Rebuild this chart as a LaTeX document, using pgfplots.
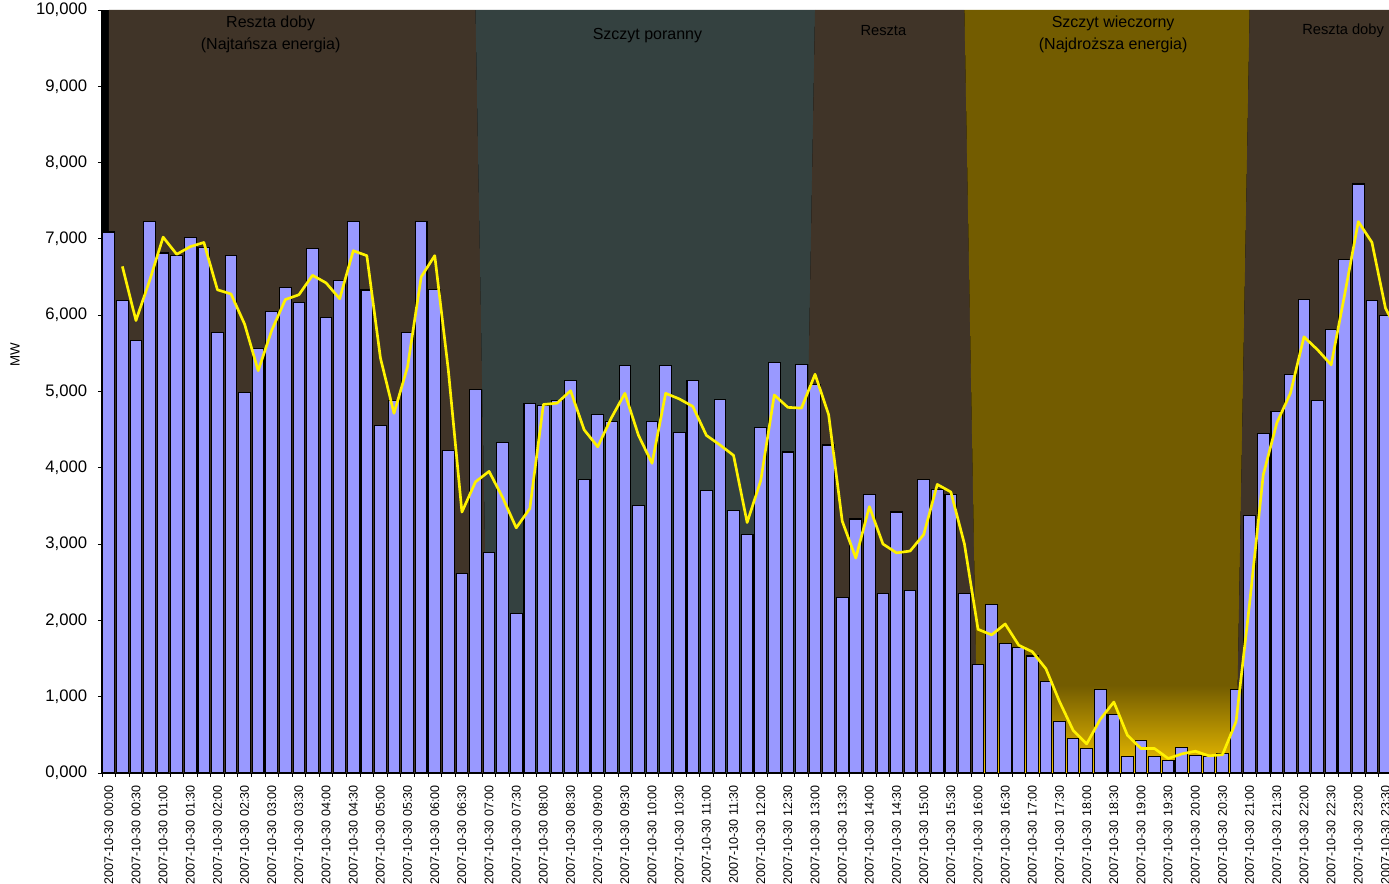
\documentclass[border=0pt]{standalone}
\usepackage{fontspec}
\setmainfont{Liberation Sans}
\usepackage{pgfplots}
\pgfplotsset{compat=1.18}
\definecolor{brownbg}{RGB}{64,52,40}
\definecolor{slatebg}{RGB}{52,65,64}
\definecolor{golddark}{RGB}{115,92,0}
\definecolor{goldbright}{RGB}{242,194,0}
\definecolor{barfill}{RGB}{153,153,255}
\begin{document}
\begin{tikzpicture}
\begin{axis}[
  scale only axis,
  width=965.25pt, height=572.25pt,
  xmin=-0.5, xmax=94.26,
  ymin=0, ymax=10000,
  axis x line*=bottom, axis y line*=left,
  axis line style={black, line width=0.8pt},
  axis background/.style={fill=black},
  tick align=outside,
  xtick={0,2,...,94},
  major x tick style={draw=none},
  minor xtick={-0.5,0.5,...,94.5},
  minor x tick style={black, line width=0.6pt},
  minor tick length=3pt,
  major tick length=3pt,
  xticklabels={{2007-10-30 00:00},{2007-10-30 00:30},{2007-10-30 01:00},{2007-10-30 01:30},{2007-10-30 02:00},{2007-10-30 02:30},{2007-10-30 03:00},{2007-10-30 03:30},{2007-10-30 04:00},{2007-10-30 04:30},{2007-10-30 05:00},{2007-10-30 05:30},{2007-10-30 06:00},{2007-10-30 06:30},{2007-10-30 07:00},{2007-10-30 07:30},{2007-10-30 08:00},{2007-10-30 08:30},{2007-10-30 09:00},{2007-10-30 09:30},{2007-10-30 10:00},{2007-10-30 10:30},{2007-10-30 11:00},{2007-10-30 11:30},{2007-10-30 12:00},{2007-10-30 12:30},{2007-10-30 13:00},{2007-10-30 13:30},{2007-10-30 14:00},{2007-10-30 14:30},{2007-10-30 15:00},{2007-10-30 15:30},{2007-10-30 16:00},{2007-10-30 16:30},{2007-10-30 17:00},{2007-10-30 17:30},{2007-10-30 18:00},{2007-10-30 18:30},{2007-10-30 19:00},{2007-10-30 19:30},{2007-10-30 20:00},{2007-10-30 20:30},{2007-10-30 21:00},{2007-10-30 21:30},{2007-10-30 22:00},{2007-10-30 22:30},{2007-10-30 23:00},{2007-10-30 23:30}},
  xticklabel style={rotate=90, anchor=east, inner sep=0pt, xshift=-6pt, font=\fontsize{9.4}{11}\selectfont},
  ytick={0,1000,...,10000},
  major y tick style={black, line width=0.6pt},
  scaled y ticks=false,
  yticklabels={{0,000},{1,000},{2,000},{3,000},{4,000},{5,000},{6,000},{7,000},{8,000},{9,000},{10,000}},
  yticklabel style={anchor=east, inner sep=0pt, xshift=-8pt, font=\fontsize{12.5}{15}\selectfont},
  ylabel={MW},
  every axis y label/.style={at={(rel axis cs:0,0.548)}, xshift=-65.25pt, rotate=90, anchor=center, font=\fontsize{10}{12}\selectfont},
]
% background regions
\addplot[draw=none, fill=brownbg] coordinates {(0,0) (0,10000) (27,10000) (28,0)} \closedcycle;
\addplot[draw=none, fill=slatebg] coordinates {(28,0) (27,10000) (52,10000) (51,0)} \closedcycle;
\addplot[draw=none, fill=brownbg] coordinates {(51,0) (52,10000) (63,10000) (64,0)} \closedcycle;
\addplot[draw=none, fill=golddark] coordinates {(64,0) (63,10000) (84,10000) (83,0)} \closedcycle;
\addplot[draw=none, top color=golddark, bottom color=goldbright] coordinates {(64,0) (63.885,1150) (83.115,1150) (83,0)} \closedcycle;
\addplot[draw=none, fill=brownbg] coordinates {(83,0) (84,10000) (96,10000) (96,0)} \closedcycle;
% bars
\addplot[ybar, bar width=0.86, fill=barfill, draw=black, line width=0.8pt] coordinates {
(0,7090)(1,6190)(2,5670)(3,7230)(4,6815)(5,6780)(6,7015)(7,6890)(8,5775)(9,6780)
(10,4985)(11,5560)(12,6045)(13,6365)(14,6170)(15,6875)(16,5970)(17,6460)(18,7230)(19,6330)
(20,4550)(21,4878)(22,5772)(23,7230)(24,6332)(25,4228)(26,2612)(27,5020)(28,2885)(29,4335)
(30,2090)(31,4842)(32,4818)(33,4876)(34,5143)(35,3852)(36,4697)(37,4609)(38,5342)(39,3508)
(40,4609)(41,5342)(42,4464)(43,5143)(44,3707)(45,4891)(46,3435)(47,3130)(48,4532)(49,5376)
(50,4207)(51,5357)(52,5095)(53,4299)(54,2305)(55,3329)(56,3653)(57,2348)(58,3421)(59,2397)
(60,3852)(61,3712)(62,3653)(63,2348)(64,1417)(65,2203)(66,1703)(67,1645)(68,1533)(69,1198)
(70,674)(71,446)(72,315)(73,1092)(74,767)(75,220)(76,420)(77,220)(78,160)(79,340)
(80,230)(81,220)(82,260)(83,1090)(84,3370)(85,4444)(86,4732)(87,5222)(88,6209)(89,4882)
(90,5817)(91,6732)(92,7719)(93,6190)(94,5994)};
% moving average line
\addplot[yellow, line width=2pt, line join=round, mark=none] coordinates {
(1,6640)(2,5930)(3,6450)(4,7023)(5,6798)(6,6898)(7,6953)(8,6333)(9,6278)(10,5883)
(11,5273)(12,5803)(13,6205)(14,6268)(15,6523)(16,6423)(17,6215)(18,6845)(19,6780)(20,5440)
(21,4714)(22,5325)(23,6501)(24,6781)(25,5280)(26,3420)(27,3816)(28,3953)(29,3610)(30,3213)
(31,3466)(32,4830)(33,4847)(34,5010)(35,4498)(36,4275)(37,4653)(38,4976)(39,4425)(40,4059)
(41,4976)(42,4903)(43,4804)(44,4425)(45,4299)(46,4163)(47,3283)(48,3831)(49,4954)(50,4792)
(51,4782)(52,5226)(53,4697)(54,3302)(55,2817)(56,3491)(57,3001)(58,2885)(59,2909)(60,3125)
(61,3782)(62,3683)(63,3001)(64,1883)(65,1810)(66,1953)(67,1674)(68,1589)(69,1366)(70,936)
(71,560)(72,381)(73,704)(74,930)(75,494)(76,320)(77,320)(78,190)(79,250)(80,285)
(81,225)(82,240)(83,675)(84,2230)(85,3907)(86,4588)(87,4977)(88,5716)(89,5546)(90,5350)
(91,6275)(92,7226)(93,6955)(94,6092)(95,5747)};
% region labels
\node[align=center, font=\fontsize{12}{16.5}\selectfont, text=black] at (axis cs:11.92,9675) {Reszta doby\\(Najtańsza energia)};
\node[font=\fontsize{12}{14}\selectfont, text=black] at (axis cs:39.66,9660) {Szczyt poranny};
\node[font=\fontsize{11}{13}\selectfont, text=black] at (axis cs:57.03,9725) {Reszta};
\node[align=center, font=\fontsize{12}{16.5}\selectfont, text=black] at (axis cs:73.95,9675) {Szczyt wieczorny\\(Najdroższa energia)};
\node[font=\fontsize{11}{13}\selectfont, text=black] at (axis cs:90.88,9725) {Reszta doby};
\coordinate (SW) at (rel axis cs:0,0);
\coordinate (NE) at (rel axis cs:1,1);
\end{axis}
\pgfresetboundingbox
\path[use as bounding box] ([xshift=-76.5pt,yshift=-83.25pt]SW) rectangle ([yshift=7.5pt]NE);
\end{tikzpicture}
\end{document}
